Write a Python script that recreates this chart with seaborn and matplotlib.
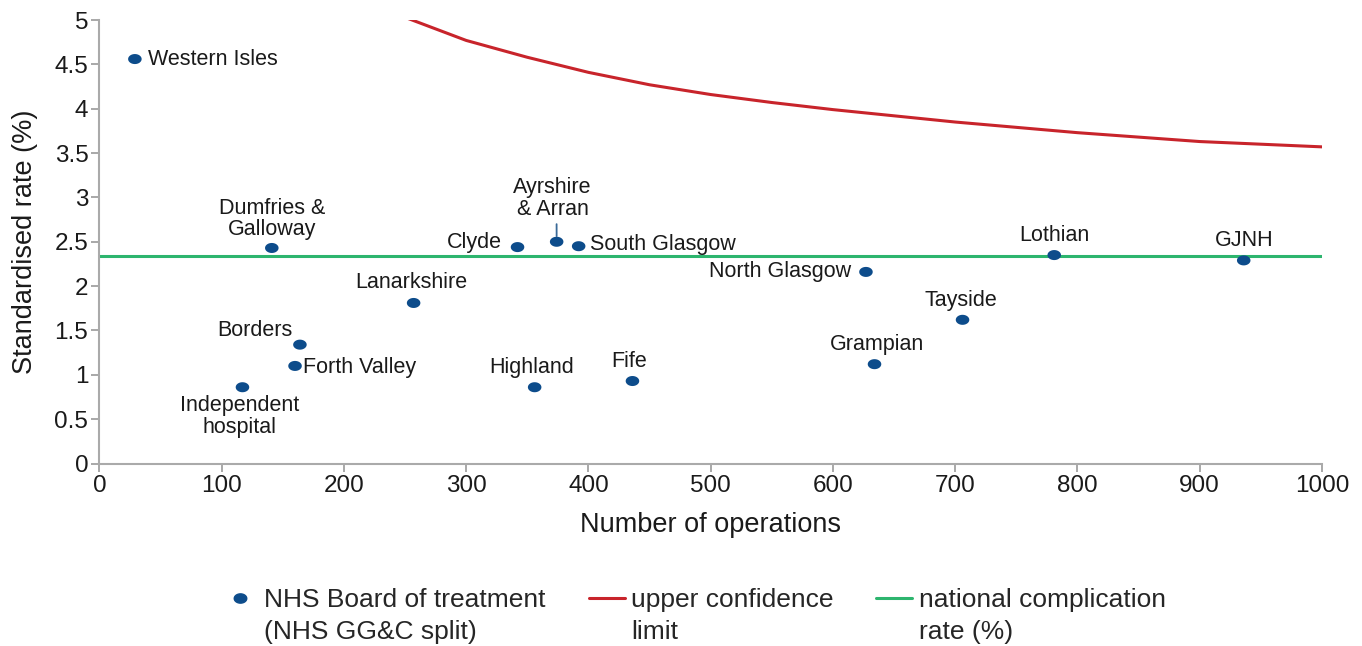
import numpy as np
import pandas as pd
import matplotlib
matplotlib.use("Agg")
import matplotlib.pyplot as plt
from matplotlib.path import Path
from matplotlib.lines import Line2D
from matplotlib.legend_handler import HandlerLine2D
import seaborn as sns

# NHS boards: number of operations and standardised complication rate (%)
boards = ["Western Isles", "Dumfries &\nGalloway", "Clyde", "Ayrshire\n& Arran",
          "South Glasgow", "Lothian", "GJNH", "North Glasgow", "Lanarkshire",
          "Tayside", "Borders", "Forth Valley", "Grampian",
          "Independent\nhospital", "Highland", "Fife"]
operations = [29, 141, 342, 374, 392, 781, 936, 627, 257, 706, 164, 160, 634, 117, 356, 436]
rates = [4.56, 2.43, 2.44, 2.50, 2.45, 2.35, 2.29, 2.16, 1.81, 1.62, 1.34, 1.10, 1.12, 0.86, 0.86, 0.93]

# Upper confidence limit of the funnel
limit_n = [250, 300, 350, 400, 450, 500, 550, 600, 650, 700, 750, 800, 850, 900, 950, 1000]
limit_rate = [5.03, 4.77, 4.58, 4.41, 4.27, 4.16, 4.07, 3.99, 3.92, 3.85, 3.79, 3.73, 3.68, 3.63, 3.60, 3.57]

national_rate = 2.34

x_ticks = [0, 100, 200, 300, 400, 500, 600, 700, 800, 900, 1000]
y_ticks = [0, 0.5, 1, 1.5, 2, 2.5, 3, 3.5, 4, 4.5, 5]
y_tick_labels = ["0", "0.5", "1", "1.5", "2", "2.5", "3", "3.5", "4", "4.5", "5"]

BLUE = "#0d4c8b"
RED = "#c8242b"
GREEN = "#2db56e"
TEXT = "#1a1a1a"

sns.set_style("ticks")
plt.rcParams["font.family"] = ["Liberation Sans", "DejaVu Sans"]

fig = plt.figure(figsize=(13.62, 6.46), dpi=100)
ax = fig.add_axes([0.073, 0.2825, 0.8976, 0.6865])

# elliptical marker, a little wider than tall
t = np.linspace(0, 2 * np.pi, 60)
ellipse = Path(np.column_stack([1.35 * np.cos(t), np.sin(t)]), closed=True)

df = pd.DataFrame({"operations": operations, "rate": rates, "board": boards})
lim = pd.DataFrame({"n": limit_n, "rate": limit_rate})

sns.lineplot(data=lim, x="n", y="rate", color=RED, lw=2.2, ax=ax, zorder=2)
ax.axhline(national_rate, color=GREEN, lw=2.2, zorder=2)
sns.scatterplot(data=df, x="operations", y="rate", marker=ellipse, s=95,
                color=BLUE, edgecolor="none", ax=ax, zorder=3)

# label offsets in pixels: (dx, dy, ha)
offsets = {
    "Western Isles": (13, 0, "left"),
    "Dumfries &\nGalloway": (0, 29, "center"),
    "Clyde": (-16, 5, "right"),
    "South Glasgow": (11, 2, "left"),
    "Lothian": (0, 20, "center"),
    "GJNH": (0, 20, "center"),
    "North Glasgow": (-15, 0, "right"),
    "Lanarkshire": (-2, 20, "center"),
    "Tayside": (-2, 19, "center"),
    "Borders": (-7, 14, "right"),
    "Forth Valley": (8, -2, "left"),
    "Grampian": (2, 20, "center"),
    "Independent\nhospital": (-3, -29, "center"),
    "Highland": (-3, 20, "center"),
    "Fife": (-3, 20, "center"),
}
LABEL_SIZE = 15.5
for name, xv, yv in zip(boards, operations, rates):
    if name == "Ayrshire\n& Arran":
        ax.annotate(name, (xv, yv), xytext=(-4, 43), textcoords="offset pixels",
                    ha="center", va="center", fontsize=LABEL_SIZE, color=TEXT,
                    linespacing=1.05,
                    arrowprops=dict(arrowstyle="-", color="#3a6a98", lw=1.3,
                                    relpos=(0.55, 0.0), shrinkA=0.5, shrinkB=4))
        continue
    dx, dy, ha = offsets[name]
    ax.annotate(name, (xv, yv), xytext=(dx, dy), textcoords="offset pixels",
                ha=ha, va="center", fontsize=LABEL_SIZE, color=TEXT, linespacing=1.05)

ax.set_xlim(0, 1000)
ax.set_ylim(0, 5)
ax.set_xticks(x_ticks)
ax.set_xticklabels([str(v) for v in x_ticks])
ax.set_yticks(y_ticks)
ax.set_yticklabels(y_tick_labels)
ax.tick_params(axis="both", labelsize=17.5, colors="#999999", labelcolor=TEXT,
               length=6, width=1.2, direction="out", pad=2)
for side in ("top", "right"):
    ax.spines[side].set_visible(False)
for side in ("left", "bottom"):
    ax.spines[side].set_color("#aaaaaa")
    ax.spines[side].set_linewidth(1.5)

ax.set_xlabel("Number of operations", fontsize=19.5, color=TEXT, labelpad=11)
ax.set_ylabel("Standardised rate (%)", fontsize=19.5, color=TEXT, labelpad=12)


class FirstLineHandler(HandlerLine2D):
    """Legend handle raised to sit beside the first line of a two-line label."""

    def __init__(self, lift, **kw):
        super().__init__(**kw)
        self.lift = lift

    def create_artists(self, legend, orig_handle, xdescent, ydescent, width,
                       height, fontsize, trans):
        artists = super().create_artists(legend, orig_handle, xdescent, ydescent,
                                         width, height, fontsize, trans)
        for a in artists:
            a.set_ydata(np.asarray(a.get_ydata(), dtype=float) + self.lift)
        return artists


handles = [
    Line2D([], [], marker=ellipse, color=BLUE, ls="none", markersize=9),
    Line2D([], [], color=RED, lw=2.2),
    Line2D([], [], color=GREEN, lw=2.2),
]
labels = ["NHS Board of treatment\n(NHS GG&C split)", "upper confidence\nlimit",
          "national complication\nrate (%)"]
leg = fig.legend(handles, labels, loc="upper left", bbox_to_anchor=(0.163, 0.090),
                 ncol=3, frameon=False, handlelength=1.36, handletextpad=0.25,
                 columnspacing=1.62, borderaxespad=0, borderpad=0, labelspacing=0,
                 prop={"size": 19},
                 handler_map={Line2D: FirstLineHandler(lift=13)})
for txt in leg.get_texts():
    txt.set_linespacing(1.42)

fig.savefig("out.png", dpi=100)
